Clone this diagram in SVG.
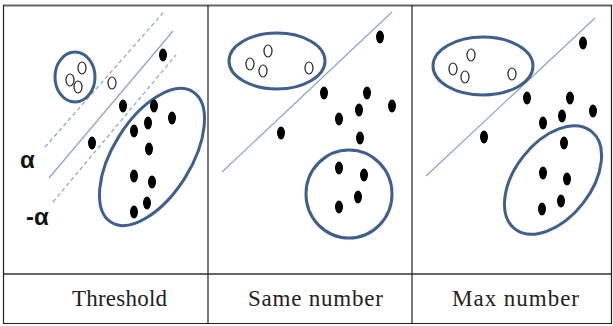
<svg xmlns="http://www.w3.org/2000/svg" width="613" height="326" viewBox="0 0 613 326">
<style>
.grid{stroke:#666;stroke-width:2;fill:none}
.gridt{stroke:#222;stroke-width:1.2;fill:none}
.sep{stroke:#8aa4cc;stroke-width:1.2;fill:none}
.dash{stroke:#8aa4cc;stroke-width:1.2;fill:none;stroke-dasharray:4 3}
.grp{stroke:#3f5f8f;stroke-width:3;fill:none}
.open{fill:#fff;stroke:#222;stroke-width:1.2}
.dot{fill:#000}
.lbl{font-family:"Liberation Serif","DejaVu Serif",serif;font-size:23px;fill:#222}
.al{font-family:"Liberation Sans","DejaVu Sans",sans-serif;font-size:24px;font-weight:bold;fill:#111}
</style>
<rect width="613" height="326" fill="#fff"/>
<g id="table">
<line class="grid" x1="3" y1="5.5" x2="612" y2="5.5"/>
<line class="grid" x1="3" y1="274" x2="612" y2="274"/>
<line class="gridt" x1="3.5" y1="5" x2="3.5" y2="324"/>
<line class="gridt" x1="208" y1="5" x2="208" y2="324"/>
<line class="gridt" x1="412" y1="5" x2="412" y2="324"/>
<line class="gridt" x1="611.5" y1="5" x2="611.5" y2="324"/>
<line class="gridt" x1="3" y1="323.5" x2="612" y2="323.5"/>
</g>
<g id="connectors">
<line class="dash" x1="45" y1="147" x2="163" y2="13"/>
<line class="sep" x1="49" y1="178" x2="173" y2="31"/>
<line class="dash" x1="53" y1="202" x2="176" y2="55"/>
<line class="sep" x1="222" y1="172" x2="392" y2="12"/>
<line class="sep" x1="426" y1="176" x2="595" y2="18"/>
</g>
<g id="panel-threshold">
<ellipse class="grp" cx="75" cy="77" rx="20" ry="25"/>
<ellipse class="grp" cx="152" cy="157" rx="77" ry="39" transform="rotate(-58 152 157)"/>
<ellipse class="open" cx="70" cy="80" rx="4" ry="6"/>
<ellipse class="open" cx="78" cy="87" rx="4" ry="6"/>
<ellipse class="open" cx="82" cy="68" rx="4" ry="6"/>
<ellipse class="open" cx="112" cy="83" rx="4" ry="6"/>
<ellipse class="dot" cx="163" cy="55" rx="4" ry="6.5"/>
<ellipse class="dot" cx="123" cy="106" rx="4" ry="6.5"/>
<ellipse class="dot" cx="154" cy="106" rx="4" ry="6.5"/>
<ellipse class="dot" cx="172" cy="118" rx="4" ry="6.5"/>
<ellipse class="dot" cx="148" cy="123" rx="4" ry="6.5"/>
<ellipse class="dot" cx="134" cy="131" rx="4" ry="6.5"/>
<ellipse class="dot" cx="92" cy="143" rx="4" ry="6.5"/>
<ellipse class="dot" cx="149" cy="149" rx="4" ry="6.5"/>
<ellipse class="dot" cx="134" cy="176" rx="4" ry="6.5"/>
<ellipse class="dot" cx="152" cy="182" rx="4" ry="6.5"/>
<ellipse class="dot" cx="147" cy="203" rx="4" ry="6.5"/>
<ellipse class="dot" cx="134" cy="212" rx="4" ry="6.5"/>
<text class="al" x="20" y="168">α</text>
<text class="al" x="26" y="225">-α</text>
</g>
<g id="panel-same">
<ellipse class="grp" cx="277" cy="61" rx="48" ry="28"/>
<ellipse class="grp" cx="349" cy="194" rx="43" ry="44"/>
<ellipse class="open" cx="250" cy="64" rx="4" ry="6"/>
<ellipse class="open" cx="263" cy="71" rx="4" ry="6"/>
<ellipse class="open" cx="268" cy="51" rx="4" ry="6"/>
<ellipse class="open" cx="309" cy="68" rx="4" ry="6"/>
<ellipse class="dot" cx="380" cy="37" rx="4" ry="6.5"/>
<ellipse class="dot" cx="324" cy="93" rx="4" ry="6.5"/>
<ellipse class="dot" cx="367" cy="93" rx="4" ry="6.5"/>
<ellipse class="dot" cx="392" cy="106" rx="4" ry="6.5"/>
<ellipse class="dot" cx="359" cy="110" rx="4" ry="6.5"/>
<ellipse class="dot" cx="339" cy="119" rx="4" ry="6.5"/>
<ellipse class="dot" cx="281" cy="133" rx="4" ry="6.5"/>
<ellipse class="dot" cx="360" cy="138" rx="4" ry="6.5"/>
<ellipse class="dot" cx="339" cy="168" rx="4" ry="6.5"/>
<ellipse class="dot" cx="364" cy="175" rx="4" ry="6.5"/>
<ellipse class="dot" cx="358" cy="197" rx="4" ry="6.5"/>
<ellipse class="dot" cx="339" cy="207" rx="4" ry="6.5"/>
</g>
<g id="panel-max">
<ellipse class="grp" cx="483" cy="66" rx="50" ry="29"/>
<ellipse class="grp" cx="553" cy="180" rx="62" ry="38" transform="rotate(-52 553 180)"/>
<ellipse class="open" cx="453" cy="69" rx="4" ry="6"/>
<ellipse class="open" cx="465" cy="77" rx="4" ry="6"/>
<ellipse class="open" cx="471" cy="55" rx="4" ry="6"/>
<ellipse class="open" cx="512" cy="74" rx="4" ry="6"/>
<ellipse class="dot" cx="583" cy="43" rx="4" ry="6.5"/>
<ellipse class="dot" cx="527" cy="98" rx="4" ry="6.5"/>
<ellipse class="dot" cx="570" cy="98" rx="4" ry="6.5"/>
<ellipse class="dot" cx="593" cy="111" rx="4" ry="6.5"/>
<ellipse class="dot" cx="562" cy="116" rx="4" ry="6.5"/>
<ellipse class="dot" cx="543" cy="123" rx="4" ry="6.5"/>
<ellipse class="dot" cx="484" cy="137" rx="4" ry="6.5"/>
<ellipse class="dot" cx="564" cy="143" rx="4" ry="6.5"/>
<ellipse class="dot" cx="543" cy="173" rx="4" ry="6.5"/>
<ellipse class="dot" cx="567" cy="179" rx="4" ry="6.5"/>
<ellipse class="dot" cx="561" cy="201" rx="4" ry="6.5"/>
<ellipse class="dot" cx="542" cy="209" rx="4" ry="6.5"/>
</g>
<g id="labels">
<text class="lbl" x="72" y="306" textLength="95" lengthAdjust="spacing">Threshold</text>
<text class="lbl" x="248" y="306" textLength="135" lengthAdjust="spacing">Same number</text>
<text class="lbl" x="452" y="306" textLength="127" lengthAdjust="spacing">Max number</text>
</g>
</svg>
